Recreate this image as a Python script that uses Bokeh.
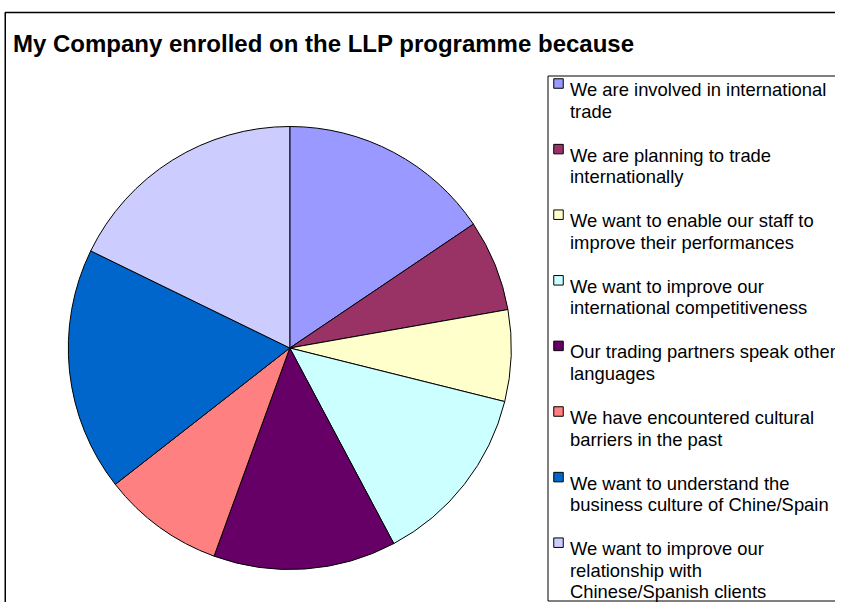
import numpy as np
from bokeh.plotting import figure
from bokeh.models import Range1d
from bokeh.core.properties import value
from bokeh.embed import file_html
from bokeh.resources import INLINE

# ---- data ----
title = "My Company enrolled on the LLP programme because"
categories = [
    "We are involved in international\ntrade",
    "We are planning to trade\ninternationally",
    "We want to enable our staff to\nimprove their performances",
    "We want to improve our\ninternational competitiveness",
    "Our trading partners speak other\nlanguages",
    "We have encountered cultural\nbarriers in the past",
    "We want to understand the\nbusiness culture of Chine/Spain",
    "We want to improve our\nrelationship with\nChinese/Spanish clients",
]
values = [7, 3, 3, 6, 6, 4, 8, 8]
colors = ["#9999FF", "#993366", "#FFFFCC", "#CCFFFF",
          "#660066", "#FF8080", "#0066CC", "#CCCCFF"]

# ---- figure: data coords = screenshot pixels (y negated) ----
W, H = 835, 602
p = figure(width=W, height=H, output_backend="svg", toolbar_location=None,
           x_range=Range1d(0, W), y_range=Range1d(-H, 0),
           min_border=0, x_axis_location=None, y_axis_location=None)
p.grid.visible = False
p.outline_line_color = None
p.background_fill_color = "white"
p.border_fill_color = "white"

FONT = value("Liberation Sans")

# chart frame
p.line(x=[4.75, 4.75, 843], y=[-612, -12, -12], line_color="black", line_width=1.5)

# title
p.text(x=[12.5], y=[-43], text=[title], text_font=FONT, text_font_size="24px",
       text_font_style="bold", text_color="black", text_baseline="alphabetic")

# pie
vals = np.array(values, dtype=float)
cum = np.concatenate([[0], np.cumsum(vals)]) / vals.sum()
start = np.pi / 2 - 2 * np.pi * cum[:-1]
end = np.pi / 2 - 2 * np.pi * cum[1:]
p.wedge(x=289.3, y=-347.5, radius=221.5, start_angle=start, end_angle=end,
        direction="clock", fill_color=colors, line_color="black", line_width=1)

# legend
tx, ty, tt = [], [], []
sx, sy = [], []
for i, lab in enumerate(categories):
    y0 = 89.0 + 65.6 * i
    sx.append(558.0)
    sy.append(-(y0 - 6))
    for j, line in enumerate(lab.split("\n")):
        tx.append(569.5)
        ty.append(-(y0 + 21.5 * j))
        tt.append(line)
p.rect(x=sx, y=sy, width=9.5, height=9.5, fill_color=colors, line_color="black", line_width=1)
p.text(x=tx, y=ty, text=tt, text_font=FONT, text_font_size="18.4px",
       text_color="black", text_baseline="alphabetic")
p.quad(left=547.5, right=837.5, top=-75.5, bottom=-600.5, fill_color=None,
       line_color="black", line_width=1)

open("out.html", "w").write(file_html(p, INLINE))
